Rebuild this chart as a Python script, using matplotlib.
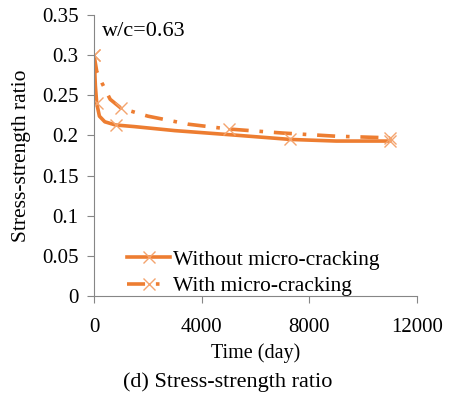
import matplotlib
matplotlib.use("Agg")
import matplotlib.pyplot as plt

plt.rcParams['font.family'] = ['Liberation Serif', 'DejaVu Serif']

# smooth curves
t_without = [0, 50, 100, 200, 400, 800, 1500, 3000, 5000, 7300, 9000, 11000]
r_without = [0.300, 0.262, 0.240, 0.224, 0.217, 0.213, 0.211, 0.206, 0.201, 0.195, 0.193, 0.193]
t_with = [0, 100, 300, 600, 1000, 2000, 3500, 5000, 7000, 9000, 11000]
r_with = [0.300, 0.280, 0.265, 0.245, 0.234, 0.224, 0.214, 0.208, 0.203, 0.199, 0.197]

# marker points
mt_without = [0, 100, 800, 7300, 11000]
mr_without = [0.300, 0.240, 0.213, 0.195, 0.193]
mt_with = [0, 1000, 5000, 11000]
mr_with = [0.300, 0.234, 0.208, 0.197]

orange = "#ED7D31"
orange2 = "#F4A46E"

fig = plt.figure(figsize=(4.49, 4.11), dpi=100)
ax = fig.add_axes([0.2094, 0.2798, 0.7193, 0.6837])

ax.plot(t_without, r_without, color=orange, lw=2.6, solid_capstyle="round")
ax.plot(t_with, r_with, color=orange, lw=2.6, dashes=(5, 3, 1, 3))
ax.plot(mt_without, mr_without, ls="none", marker="x", ms=9, mew=1.0, color=orange2)
ax.plot(mt_with, mr_with, ls="none", marker="x", ms=9, mew=1.0, color=orange2)

# legend handles
h1, = ax.plot([], [], color=orange, lw=2.6, marker="x", ms=9, mew=1.0, mec=orange2)
h2, = ax.plot([], [], color=orange, lw=2.6, dashes=(5, 3, 1, 3), marker="x", ms=9, mew=1.0, mec=orange2)
ax.legend([h1, h2], ["Without micro-cracking", "With micro-cracking"],
          loc="lower left", bbox_to_anchor=(0.07, -0.04), frameon=False,
          fontsize=15.5, handlelength=2.0, handletextpad=0.1,
          labelspacing=0.3, borderaxespad=0.1)

ax.set_xlim(0, 12000)
ax.set_ylim(0, 0.35)
ax.set_xticks([0, 4000, 8000, 12000])
ax.set_yticks([0, 0.05, 0.1, 0.15, 0.2, 0.25, 0.3, 0.35])
ax.set_yticklabels(["0", "0.05", "0.1", "0.15", "0.2", "0.25", "0.3", "0.35"])
for s in ["top", "right"]:
    ax.spines[s].set_visible(False)
for s in ["left", "bottom"]:
    ax.spines[s].set_color("#868686")
ax.tick_params(axis="both", colors="#868686", labelcolor="black",
               labelsize=15, length=5, direction="out")
ax.tick_params(axis="x", pad=11)
ax.tick_params(axis="y", pad=6)

ax.set_xlabel("Time (day)", fontsize=14.5, labelpad=4)
ax.set_ylabel("Stress-strength ratio", fontsize=15.5, labelpad=8)
ax.text(300, 0.329, "w/c=0.63", fontsize=16, va="center")

fig.text(0.508, 0.07, "(d) Stress-strength ratio", fontsize=16, ha="center", va="center")

fig.savefig("out.png", dpi=100)
